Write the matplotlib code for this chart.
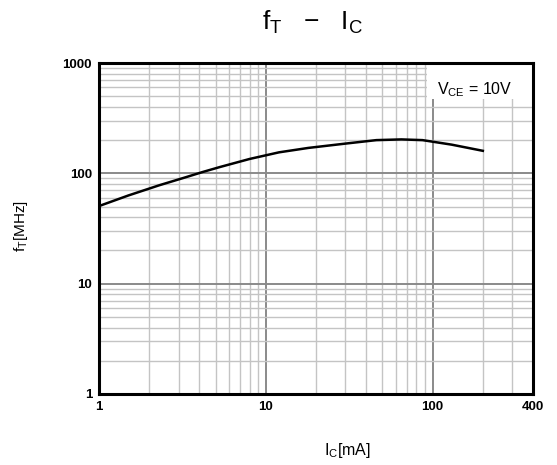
import matplotlib.pyplot as plt
from matplotlib.patches import Rectangle

# fT vs Ic, VCE = 10V
ic_ma = [1, 1.5, 2.3, 3.3, 4.2, 5.3, 8, 12, 18, 30, 46, 65, 87, 130, 200]
ft_mhz = [50.5, 63, 78, 92, 103, 114, 135, 155, 170, 186, 200, 203, 200, 182, 160]

x_ticks = [1, 10, 100, 400]
x_labels = ["1", "10", "100", "400"]
y_ticks = [1, 10, 100, 1000]
y_labels = ["1", "10", "100", "1000"]

plt.rcParams["font.family"] = ["Liberation Sans", "DejaVu Sans"]
plt.rcParams["mathtext.fontset"] = "custom"
plt.rcParams["mathtext.rm"] = "Liberation Sans"

fig = plt.figure(figsize=(5.57, 4.65), dpi=100)
ax = fig.add_axes([0.1777, 0.1527, 0.7793, 0.7118])

ax.set_xscale("log")
ax.set_yscale("log")
ax.set_xlim(1, 400)
ax.set_ylim(1, 1000)

# сетка: мелкая светлая, по декадам темнее
for v in [2, 3, 4, 5, 6, 7, 8, 9, 20, 30, 40, 50, 60, 70, 80, 90, 200, 300]:
    ax.axvline(v, color="#c4c4c4", linewidth=1.0, zorder=1)
for v in [10, 100]:
    ax.axvline(v, color="#8a8a8a", linewidth=1.4, zorder=1)
for d in [1, 10, 100]:
    for k in range(2, 10):
        ax.axhline(d * k, color="#c4c4c4", linewidth=1.0, zorder=1)
for v in [10, 100]:
    ax.axhline(v, color="#8a8a8a", linewidth=1.4, zorder=1)

ax.plot(ic_ma, ft_mhz, color="black", linewidth=1.8, zorder=3)

ax.set_xticks(x_ticks)
ax.set_xticklabels(x_labels, fontsize=9.5, fontweight="bold")
ax.set_yticks(y_ticks)
ax.set_yticklabels(y_labels, fontsize=9.5, fontweight="bold")
ax.xaxis.set_minor_locator(plt.NullLocator())
ax.yaxis.set_minor_locator(plt.NullLocator())
ax.tick_params(length=0, pad=5)

for s in ax.spines.values():
    s.set_linewidth(2.2)
    s.set_color("black")
    s.set_zorder(4)

# подпись условия в белой рамке
ax.add_patch(Rectangle((0.756, 0.891), 0.244, 0.109, transform=ax.transAxes,
                       facecolor="white", edgecolor="none", zorder=2))
ax.text(0.866, 0.921, r"V$_{\mathrm{CE}}$ = 10V", transform=ax.transAxes,
        ha="center", va="center", fontsize=11.5, zorder=5)

fig.text(0.561, 0.952, r"f$_{\mathrm{T}}$   $-$   I$_{\mathrm{C}}$", ha="center",
         va="center", fontsize=19)
fig.text(0.038, 0.514, r"f$_{\mathrm{T}}$[MHz]", rotation=90, ha="center",
         va="center", fontsize=11)
fig.text(0.623, 0.032, r"I$_{\mathrm{C}}$[mA]", ha="center", va="center",
         fontsize=11.5)

plt.savefig("out.png", dpi=100)
